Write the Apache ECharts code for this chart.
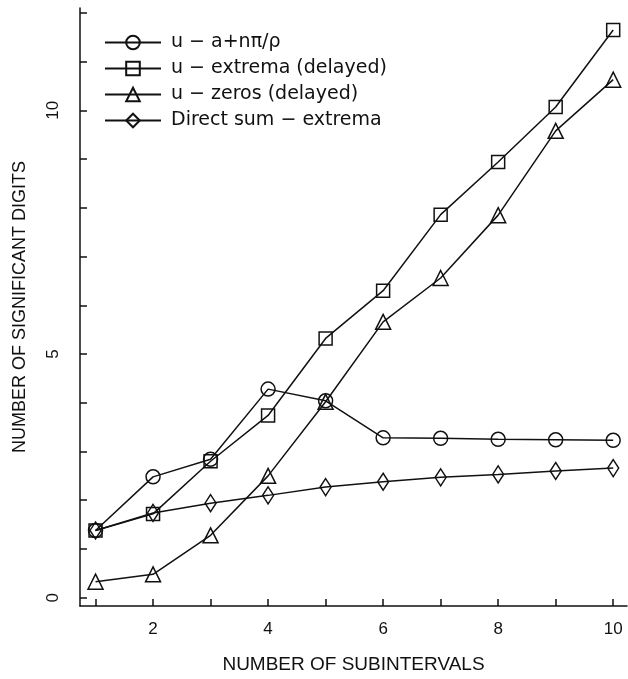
<!DOCTYPE html>
<html>
<head>
<meta charset="utf-8">
<script src="https://cdn.jsdelivr.net/npm/echarts@6/dist/echarts.min.js"></script>
<style>html,body{margin:0;padding:0;background:#fff;}#chart{width:628px;height:679px;}</style>
</head>
<body>
<div id="chart"></div>
<script>
const subintervals = [1, 2, 3, 4, 5, 6, 7, 8, 9, 10];
const uPhase = [1.38, 2.48, 2.84, 4.28, 4.04, 3.28, 3.27, 3.25, 3.24, 3.23];
const uExtrema = [1.38, 1.72, 2.80, 3.74, 5.32, 6.30, 7.86, 8.94, 10.07, 11.65];
const uZeros = [0.33, 0.48, 1.28, 2.50, 4.02, 5.66, 6.56, 7.85, 9.58, 10.63];
const directSum = [1.38, 1.74, 1.94, 2.10, 2.27, 2.38, 2.47, 2.53, 2.60, 2.66];
const seriesNames = ['u \u2212 a+n\u03c0/\u03c1', 'u \u2212 extrema (delayed)', 'u \u2212 zeros (delayed)', 'Direct sum \u2212 extrema'];
const xTicks = [1, 2, 3, 4, 5, 6, 7, 8, 9, 10];
const xTickLabels = [2, 4, 6, 8, 10];
const yTicks = [0, 1, 2, 3, 4, 5, 6, 7, 8, 9, 10, 11, 12];
const yTickLabels = [0, 5, 10];

const FONT = 'Liberation Sans';
const LEGEND_FONT = 'DejaVu Sans';
const INK = '#111';
function pairs(vals) { return subintervals.map((x, i) => [x, vals[i]]); }
function mkSeries(name, vals, symbol, size) {
  return {
    name: name, type: 'line', data: pairs(vals), symbol: symbol, symbolSize: size,
    showAllSymbol: true,
    lineStyle: { color: INK, width: 1.5 },
    itemStyle: { color: 'rgba(255,255,255,0)', borderColor: INK, borderWidth: 1.5 },
    emphasis: { disabled: true }, animation: false
  };
}
const chart = echarts.init(document.getElementById('chart'), null, { renderer: 'canvas' });
chart.setOption({
  backgroundColor: '#fff',
  animation: false,
  textStyle: { fontFamily: FONT, color: INK },
  grid: { left: 80, top: 8, right: 1, bottom: 72, containLabel: false },
  legend: {
    orient: 'vertical', left: 99, top: 28, itemWidth: 56, itemHeight: 17, itemGap: 7,
    textStyle: { fontFamily: LEGEND_FONT, fontSize: 19, color: INK, padding: [0, 0, 0, 5] },
    data: seriesNames
  },
  xAxis: {
    type: 'value', min: 0.73, max: 10.24,
    name: 'NUMBER OF SUBINTERVALS', nameLocation: 'middle', nameGap: 49,
    nameTextStyle: { fontFamily: FONT, fontSize: 19, color: INK },
    axisLine: { show: true, onZero: false, lineStyle: { color: INK, width: 1.5 } },
    axisTick: { show: true, inside: true, length: 7, customValues: xTicks, lineStyle: { color: INK, width: 1.5 } },
    axisLabel: { customValues: xTickLabels, margin: 15, fontSize: 17, fontFamily: FONT, color: INK },
    splitLine: { show: false }
  },
  yAxis: {
    type: 'value', min: -0.17, max: 12.1,
    name: 'NUMBER OF SIGNIFICANT DIGITS', nameLocation: 'middle', nameGap: 51, nameRotate: 90,
    nameTextStyle: { fontFamily: FONT, fontSize: 18, color: INK },
    axisLine: { show: true, onZero: false, lineStyle: { color: INK, width: 1.5 } },
    axisTick: { show: true, inside: true, length: 7, customValues: yTicks, lineStyle: { color: INK, width: 1.5 } },
    axisLabel: { customValues: yTickLabels, rotate: 90, margin: 18, fontSize: 17, fontFamily: FONT, color: INK },
    splitLine: { show: false }
  },
  series: [
    mkSeries(seriesNames[0], uPhase, 'circle', 14),
    mkSeries(seriesNames[1], uExtrema, 'rect', 13),
    mkSeries(seriesNames[2], uZeros, 'triangle', 15),
    mkSeries(seriesNames[3], directSum, 'diamond', [11, 17])
  ]
});
</script>
</body>
</html>
